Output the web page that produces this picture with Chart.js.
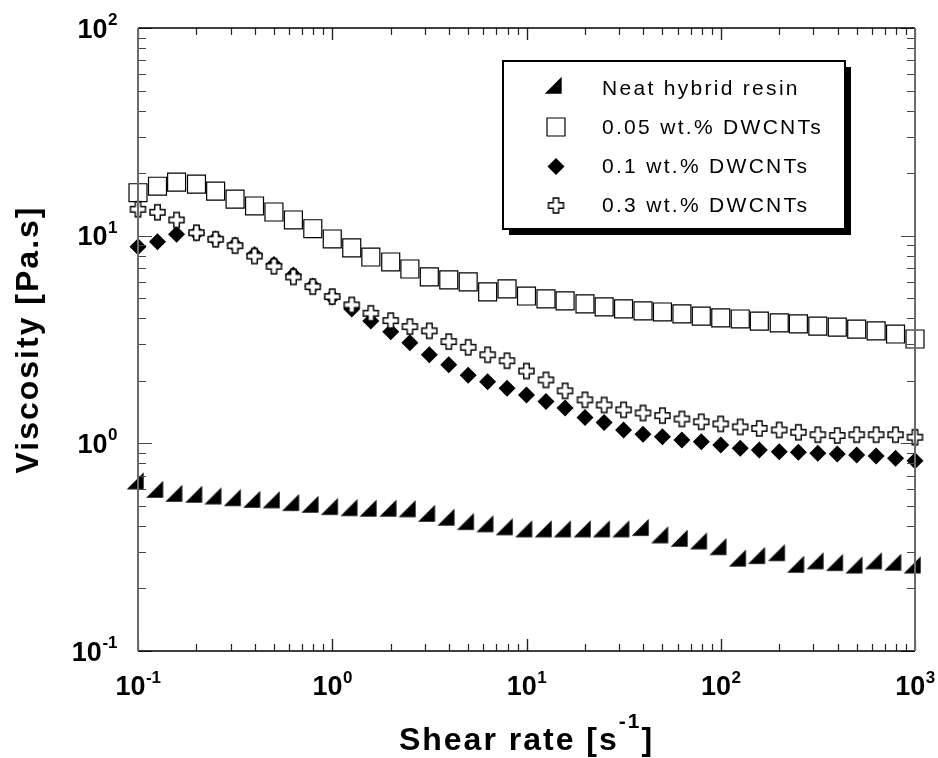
<!DOCTYPE html>
<html>
<head>
<meta charset="utf-8">
<script src="https://cdn.jsdelivr.net/npm/chart.js@4.4.0/dist/chart.umd.min.js"></script>
<style>
  html, body { margin: 0; padding: 0; background: #fff; }
  #wrap { width: 938px; height: 758px; }
</style>
</head>
<body>
<div id="wrap"><canvas id="viscChart" width="938" height="758"></canvas></div>
<script>
// shear rate [1/s], 10 points per decade
const shearRate = [
  0.1, 0.126, 0.158, 0.2, 0.251, 0.316, 0.398, 0.501, 0.631, 0.794,
  1, 1.26, 1.58, 2, 2.51, 3.16, 3.98, 5.01, 6.31, 7.94,
  10, 12.6, 15.8, 20, 25.1, 31.6, 39.8, 50.1, 63.1, 79.4,
  100, 126, 158, 200, 251, 316, 398, 501, 631, 794, 1000
];

// viscosity [Pa.s]
const neatResin = [
  0.640, 0.583, 0.558, 0.552, 0.542, 0.532, 0.522, 0.519, 0.504, 0.494,
  0.482, 0.476, 0.473, 0.473, 0.470, 0.447, 0.428, 0.408, 0.398, 0.385,
  0.376, 0.376, 0.376, 0.376, 0.376, 0.376, 0.382, 0.352, 0.339, 0.329,
  0.309, 0.272, 0.280, 0.289, 0.254, 0.264, 0.259, 0.252, 0.264, 0.260, 0.252
];
const dw005 = [
  16.1, 17.3, 18.1, 17.7, 16.4, 15.0, 13.9, 13.0, 11.9, 10.8,
  9.64, 8.73, 7.89, 7.47, 6.91, 6.33, 6.12, 5.99, 5.36, 5.54,
  5.12, 4.96, 4.85, 4.69, 4.54, 4.44, 4.34, 4.29, 4.20, 4.10,
  4.02, 3.97, 3.88, 3.80, 3.76, 3.67, 3.63, 3.55, 3.48, 3.36, 3.18
];
const dw01 = [
  8.85, 9.36, 10.15, 10.3, 9.64, 9.02, 8.12, 7.27, 6.47, 5.73,
  5.07, 4.44, 3.88, 3.45, 3.05, 2.67, 2.39, 2.13, 1.98, 1.84,
  1.71, 1.59, 1.48, 1.33, 1.26, 1.16, 1.106, 1.077, 1.038, 1.019,
  0.982, 0.947, 0.929, 0.912, 0.906, 0.896, 0.889, 0.879, 0.870, 0.848, 0.825
];
const dw03 = [
  13.4, 12.96, 11.9, 10.33, 9.61, 8.95, 7.98, 7.12, 6.33, 5.68,
  5.09, 4.64, 4.23, 3.90, 3.65, 3.48, 3.09, 2.90, 2.67, 2.50,
  2.23, 2.02, 1.79, 1.62, 1.53, 1.45, 1.40, 1.36, 1.31, 1.27,
  1.24, 1.20, 1.18, 1.16, 1.13, 1.10, 1.09, 1.10, 1.10, 1.10, 1.07
];

const seriesLabels = ['Neat hybrid resin', '0.05 wt.% DWCNTs', '0.1 wt.% DWCNTs', '0.3 wt.% DWCNTs'];

// tick labels: 10^exp
const xTicks = [0.1, 1, 10, 100, 1000];
const xTickExp = ['-1', '0', '1', '2', '3'];
const yTicks = [0.1, 1, 10, 100];
const yTickExp = ['-1', '0', '1', '2'];

const FONT = "'Liberation Sans', Arial, sans-serif";

// right triangle marker (right angle bottom-right), centred on its centroid
function makeTriangle(leg) {
    const s = 24;
    const c = document.createElement('canvas');
    c.width = s; c.height = s;
    const g = c.getContext('2d');
    const cx = s / 2, cy = s / 2;
    g.beginPath();
    g.moveTo(cx + leg / 3, cy - 2 * leg / 3);
    g.lineTo(cx + leg / 3, cy + leg / 3);
    g.lineTo(cx - 2 * leg / 3, cy + leg / 3);
    g.closePath();
    g.fillStyle = '#000';
    g.fill();
    return c;
}

// open plus marker
function makeCross(size, arm) {
    const s = size + 4;
    const c = document.createElement('canvas');
    c.width = s; c.height = s;
    const g = c.getContext('2d');
    const m = s / 2, h = size / 2, a = arm / 2;
    g.beginPath();
    g.moveTo(m - a, m - h); g.lineTo(m + a, m - h); g.lineTo(m + a, m - a);
    g.lineTo(m + h, m - a); g.lineTo(m + h, m + a); g.lineTo(m + a, m + a);
    g.lineTo(m + a, m + h); g.lineTo(m - a, m + h); g.lineTo(m - a, m + a);
    g.lineTo(m - h, m + a); g.lineTo(m - h, m - a); g.lineTo(m - a, m - a);
    g.closePath();
    g.fillStyle = '#fff';
    g.fill();
    g.lineWidth = 1.4;
    g.strokeStyle = '#000';
    g.stroke();
    return c;
}

const triStyle = makeTriangle(17);
const crossStyle = makeCross(15, 5.5);

const toPoints = ys => shearRate.map((x, i) => ({ x: x, y: ys[i] }));

const markerOpts = [
    { pointStyle: triStyle, pointRadius: 8, pointBackgroundColor: '#000', pointBorderColor: '#000', pointBorderWidth: 0 },
    { pointStyle: 'rect', pointRadius: 12.7, pointBackgroundColor: '#fff', pointBorderColor: '#000', pointBorderWidth: 1.2 },
    { pointStyle: 'rectRot', pointRadius: 8.5, pointBackgroundColor: '#000', pointBorderColor: '#000', pointBorderWidth: 0 },
    { pointStyle: crossStyle, pointRadius: 8, pointBackgroundColor: '#fff', pointBorderColor: '#000', pointBorderWidth: 0 }
];

function drawPower(ctx, exp, x, y, align, bigPx, smallPx, raise) {
    ctx.font = 'bold ' + bigPx + 'px ' + FONT;
    const wb = ctx.measureText('10').width;
    ctx.font = 'bold ' + smallPx + 'px ' + FONT;
    const we = ctx.measureText(exp).width;
    let start = align === 'center' ? x - (wb + we) / 2 : x - (wb + we);
    ctx.textAlign = 'left';
    ctx.textBaseline = 'alphabetic';
    ctx.font = 'bold ' + bigPx + 'px ' + FONT;
    ctx.fillText('10', start, y);
    ctx.font = 'bold ' + smallPx + 'px ' + FONT;
    ctx.fillText(exp, start + wb + 0.5, y - raise);
}

const framePlugin = {
    id: 'frame',
    afterDatasetsDraw(chart) {
        const ctx = chart.ctx;
        const a = chart.chartArea;
        const xs = chart.scales.x, ys = chart.scales.y;
        ctx.save();

        // inward ticks on all four sides
        ctx.lineWidth = 1.2;
        ctx.strokeStyle = '#222';
        for (let d = -1; d < 3; d++) {
            for (let m = 1; m <= 10; m++) {
                const v = m * Math.pow(10, d);
                const px = Math.round(xs.getPixelForValue(v)) + 0.5;
                const len = (m === 1 || m === 10) ? 12 : 7;
                ctx.beginPath();
                ctx.moveTo(px, a.bottom); ctx.lineTo(px, a.bottom - len);
                ctx.moveTo(px, a.top); ctx.lineTo(px, a.top + len);
                ctx.stroke();
            }
        }
        ctx.strokeStyle = '#444';
        for (let d = -1; d < 2; d++) {
            for (let m = 1; m <= 10; m++) {
                const v = m * Math.pow(10, d);
                const py = Math.round(ys.getPixelForValue(v)) + 0.5;
                const len = (m === 1 || m === 10) ? 14 : 8;
                ctx.beginPath();
                ctx.moveTo(a.left, py); ctx.lineTo(a.left + len, py);
                ctx.moveTo(a.right, py); ctx.lineTo(a.right - len, py);
                ctx.stroke();
            }
        }

        // frame
        ctx.lineWidth = 1.5;
        ctx.strokeStyle = '#000';
        ctx.beginPath();
        ctx.moveTo(a.left, a.top); ctx.lineTo(a.right, a.top);
        ctx.moveTo(a.left, a.bottom); ctx.lineTo(a.right, a.bottom);
        ctx.stroke();
        ctx.lineWidth = 2;
        ctx.strokeStyle = '#6a6a6a';
        ctx.beginPath();
        ctx.moveTo(a.left, a.top); ctx.lineTo(a.left, a.bottom);
        ctx.moveTo(a.right, a.top); ctx.lineTo(a.right, a.bottom);
        ctx.stroke();

        // tick labels
        ctx.fillStyle = '#000';
        xTicks.forEach((v, i) => {
            drawPower(ctx, xTickExp[i], xs.getPixelForValue(v), a.bottom + 44, 'center', 27, 17, 12);
        });
        yTicks.forEach((v, i) => {
            drawPower(ctx, yTickExp[i], 117, ys.getPixelForValue(v) + 9.5, 'right', 27, 17, 12.5);
        });

        // axis titles
        const cx = (a.left + a.right) / 2;
        const cy = (a.top + a.bottom) / 2;
        ctx.letterSpacing = '2px';
        ctx.font = 'bold 32px ' + FONT;
        const t1 = 'Shear rate [s', t3 = ']', t2 = '-1';
        const w1 = ctx.measureText(t1).width, w3 = ctx.measureText(t3).width;
        ctx.font = 'bold 21px ' + FONT;
        const w2 = ctx.measureText(t2).width;
        let sx = cx - (w1 + w2 + w3) / 2;
        ctx.textAlign = 'left';
        ctx.font = 'bold 32px ' + FONT;
        ctx.fillText(t1, sx, 750);
        ctx.font = 'bold 21px ' + FONT;
        ctx.fillText(t2, sx + w1, 728);
        ctx.font = 'bold 32px ' + FONT;
        ctx.fillText(t3, sx + w1 + w2, 750);

        ctx.save();
        ctx.translate(38, cy);
        ctx.rotate(-Math.PI / 2);
        ctx.textAlign = 'center';
        ctx.fillText('Viscosity [Pa.s]', 0, 0);
        ctx.restore();
        ctx.letterSpacing = '0px';

        // legend box with shadow
        const bx = 503, by = 61, bw = 342, bh = 168;
        ctx.fillStyle = '#000';
        ctx.fillRect(bx + 6, by + 6, bw, bh);
        ctx.fillStyle = '#fff';
        ctx.fillRect(bx, by, bw, bh);
        ctx.lineWidth = 2;
        ctx.strokeStyle = '#000';
        ctx.strokeRect(bx, by, bw, bh);

        const rowY = [88, 127, 166.5, 205.5];
        chart.data.datasets.forEach((ds, i) => {
            const mo = markerOpts[i];
            ctx.fillStyle = mo.pointBackgroundColor;
            ctx.strokeStyle = mo.pointBorderColor;
            ctx.lineWidth = mo.pointBorderWidth;
            Chart.helpers.drawPoint(ctx, {
                pointStyle: mo.pointStyle,
                radius: mo.pointRadius,
                rotation: 0,
                borderWidth: mo.pointBorderWidth
            }, 556, rowY[i]);
            ctx.fillStyle = '#000';
            ctx.font = '21px ' + FONT;
            ctx.letterSpacing = '2.3px';
            ctx.textAlign = 'left';
            ctx.textBaseline = 'middle';
            ctx.fillText(ds.label, 602, rowY[i] + 1);
            ctx.letterSpacing = '0px';
        });
        ctx.restore();
    }
};

const datasets = [neatResin, dw005, dw01, dw03].map((ys, i) => Object.assign({
    label: seriesLabels[i],
    data: toPoints(ys),
    showLine: false,
    clip: false,
    order: 4 - i
}, markerOpts[i]));

new Chart(document.getElementById('viscChart'), {
    type: 'scatter',
    data: { datasets: datasets },
    options: {
        responsive: false,
        animation: false,
        events: [],
        layout: { padding: { left: 138, right: 23, top: 28, bottom: 107 } },
        scales: {
            x: { type: 'logarithmic', min: 0.1, max: 1000, display: false },
            y: { type: 'logarithmic', min: 0.1, max: 100, display: false }
        },
        plugins: {
            legend: { display: false },
            tooltip: { enabled: false }
        }
    },
    plugins: [framePlugin]
});
</script>
</body>
</html>
